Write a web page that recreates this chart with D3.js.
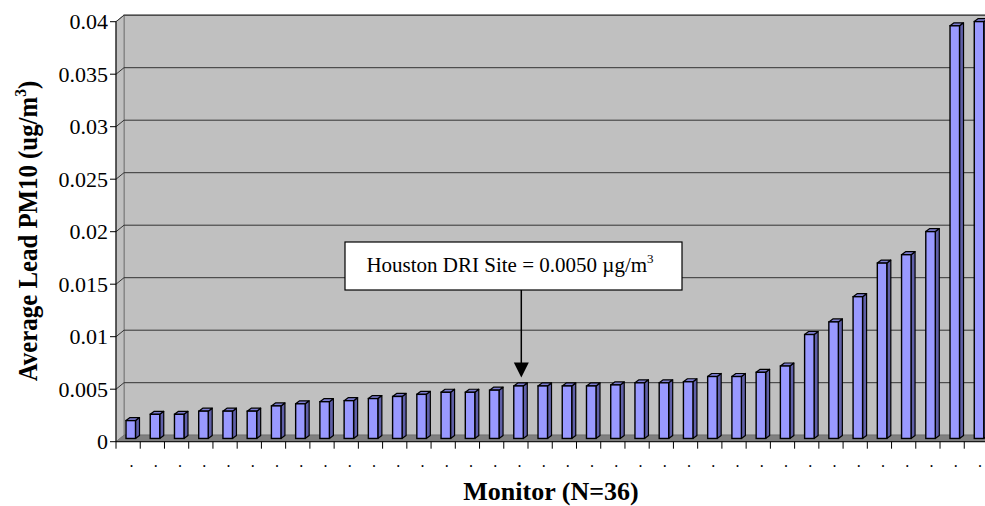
<!DOCTYPE html>
<html>
<head>
<meta charset="utf-8">
<script src="https://cdn.jsdelivr.net/npm/d3@7"></script>
<style>
  body { margin: 0; background: #fff; }
</style>
</head>
<body>
<div id="container"></div>
<script>
let w = 985;
let h = 506;

// average lead PM10 per monitor, sorted ascending
let values = [0.0017, 0.0023, 0.0023, 0.0026, 0.0026, 0.0026, 0.0031, 0.0033, 0.0035, 0.0036,
              0.0038, 0.0040, 0.0042, 0.0044, 0.0044, 0.0046, 0.0050, 0.0050, 0.0050, 0.0050,
              0.0051, 0.0053, 0.0053, 0.0054, 0.0059, 0.0059, 0.0063, 0.0069, 0.0099, 0.0111,
              0.0135, 0.0167, 0.0175, 0.0197, 0.0393, 0.0397];
let labels = [".", ".", ".", ".", ".", ".", ".", ".", ".", ".", ".", ".",
              ".", ".", ".", ".", ".", ".", ".", ".", ".", ".", ".", ".",
              ".", ".", ".", ".", ".", ".", ".", ".", ".", ".", ".", "."];
let yTicks = [0, 0.005, 0.01, 0.015, 0.02, 0.025, 0.03, 0.035, 0.04];
let yTickText = ["0", "0.005", "0.01", "0.015", "0.02", "0.025", "0.03", "0.035", "0.04"];
let houstonIndex = 16;

// 3d depth of the plot (back wall offset)
let dx = 8, dy = -6.5;
let x0 = 116, x1 = 988.5;

let x = d3.scaleBand()
    .domain(d3.range(values.length))
    .range([x0, x1])
    .padding(0);

let y = d3.scaleLinear()
    .domain([0, 0.04])
    .range([441.7, 21.7]);

let viz = d3.select('#container').append("svg")
    .attr('width', w)
    .attr('height', h)
    .attr('font-family', '"Liberation Serif", "DejaVu Serif", "Times New Roman", serif')
;

// back wall
viz.append('rect')
    .attr('x', x0 + dx)
    .attr('y', y(0.04) + dy)
    .attr('width', w)
    .attr('height', y(0) - y(0.04))
    .attr('fill', '#c0c0c0')
    .attr('stroke', '#808080')
    .attr('stroke-width', 1.5)

// left side wall
viz.append('polygon')
    .attr('points', [[x0, y(0.04)], [x0 + dx, y(0.04) + dy], [x0 + dx, y(0) + dy], [x0, y(0)]].join(' '))
    .attr('fill', '#c0c0c0')
    .attr('stroke', '#808080')

// gridlines on the back wall and side wall
viz.append('g').selectAll('path')
    .data(yTicks.slice(1))
    .join('path')
    .attr('d', d => `M${x0},${y(d)}L${x0 + dx},${y(d) + dy}L${w + 10},${y(d) + dy}`)
    .attr('fill', 'none')
    .attr('stroke', '#333')
    .attr('stroke-width', 1)

// floor
viz.append('polygon')
    .attr('points', [[x0, y(0)], [x0 + dx, y(0) + dy], [w + 10, y(0) + dy], [w + 10, y(0)]].join(' '))
    .attr('fill', '#808080')
    .attr('stroke', '#666')
    .attr('stroke-width', 0.5)

// bars sit in the middle of the depth
let bw = 9.5, bdx = 4, bdy = -3;
let my = dy / 2;

let bars = viz.append('g').selectAll('g')
    .data(values)
    .join('g')
    .attr('transform', (d, i) => `translate(${x(i) + 10},${my})`);

// side face
bars.append('polygon')
    .attr('points', d => [[bw, y(d)], [bw + bdx, y(d) + bdy], [bw + bdx, y(0) + bdy], [bw, y(0)]].join(' '))
    .attr('fill', '#5f5fa8')
    .attr('stroke', '#000')
    .attr('stroke-width', 1.2)
    .attr('stroke-linejoin', 'round')

// top face
bars.append('polygon')
    .attr('points', d => [[0, y(d)], [bdx, y(d) + bdy], [bw + bdx, y(d) + bdy], [bw, y(d)]].join(' '))
    .attr('fill', '#7c7cd0')
    .attr('stroke', '#000')
    .attr('stroke-width', 1.2)
    .attr('stroke-linejoin', 'round')

// front face
bars.append('rect')
    .attr('x', 0)
    .attr('y', d => y(d))
    .attr('width', bw)
    .attr('height', d => y(0) - y(d))
    .attr('fill', '#9999ff')
    .attr('stroke', '#000')
    .attr('stroke-width', 1.4)

// y axis
viz.append('line')
    .attr('x1', x0).attr('x2', x0)
    .attr('y1', y(0.04)).attr('y2', y(0))
    .attr('stroke', '#000')

viz.append('g').selectAll('line')
    .data(yTicks)
    .join('line')
    .attr('x1', x0 - 6).attr('x2', x0)
    .attr('y1', d => y(d)).attr('y2', d => y(d))
    .attr('stroke', '#000')

viz.append('g').selectAll('text')
    .data(yTicks)
    .join('text')
    .text((d, i) => yTickText[i])
    .attr('x', x0 - 8)
    .attr('y', d => y(d) + 7.5)
    .attr('text-anchor', 'end')
    .attr('font-size', '22px')

// x axis
viz.append('line')
    .attr('x1', x0).attr('x2', w + 10)
    .attr('y1', y(0)).attr('y2', y(0))
    .attr('stroke', '#000')

viz.append('g').selectAll('line')
    .data(d3.range(values.length + 1))
    .join('line')
    .attr('x1', i => x0 + i * x.bandwidth())
    .attr('x2', i => x0 + i * x.bandwidth())
    .attr('y1', y(0)).attr('y2', y(0) + 7)
    .attr('stroke', '#000')

viz.append('g').selectAll('text')
    .data(labels)
    .join('text')
    .text(d => d)
    .attr('x', (d, i) => x(i) + x.bandwidth() / 2 + 3.5)
    .attr('y', 467)
    .attr('text-anchor', 'middle')
    .attr('font-size', '16px')
    .attr('fill', '#000')

// axis titles
let yt = viz.append('text')
    .attr('transform', 'translate(37,231) rotate(-90) scale(0.92,1)')
    .attr('text-anchor', 'middle')
    .attr('font-size', '27px')
    .attr('font-weight', 'bold')
yt.append('tspan').text('Average Lead PM10 (ug/m')
yt.append('tspan').text('3').attr('font-size', '17px').attr('dy', -11)
yt.append('tspan').text(')').attr('dy', 11)

viz.append('text')
    .text('Monitor (N=36)')
    .attr('x', 551)
    .attr('y', 500)
    .attr('text-anchor', 'middle')
    .attr('font-size', '26px')
    .attr('font-weight', 'bold')

// annotation for the Houston DRI site
let ax = x(houstonIndex) + x.bandwidth() / 2 + 5.4;
viz.append('line')
    .attr('x1', ax).attr('x2', ax)
    .attr('y1', 290).attr('y2', 364)
    .attr('stroke', '#000')
    .attr('stroke-width', 1.5)

viz.append('polygon')
    .attr('points', [[ax - 7.5, 362.5], [ax + 7.5, 362.5], [ax, 377.5]].join(' '))
    .attr('fill', '#000')

viz.append('rect')
    .attr('x', 345)
    .attr('y', 242)
    .attr('width', 337)
    .attr('height', 48)
    .attr('fill', '#fff')
    .attr('stroke', '#000')
    .attr('stroke-width', 1.2)

let at = viz.append('text')
    .attr('x', 510)
    .attr('y', 272)
    .attr('text-anchor', 'middle')
    .attr('font-size', '21px')
at.append('tspan').text('Houston DRI Site = 0.0050 \u00b5g/m')
at.append('tspan').text('3').attr('font-size', '13px').attr('dy', -9)
</script>
</body>
</html>
